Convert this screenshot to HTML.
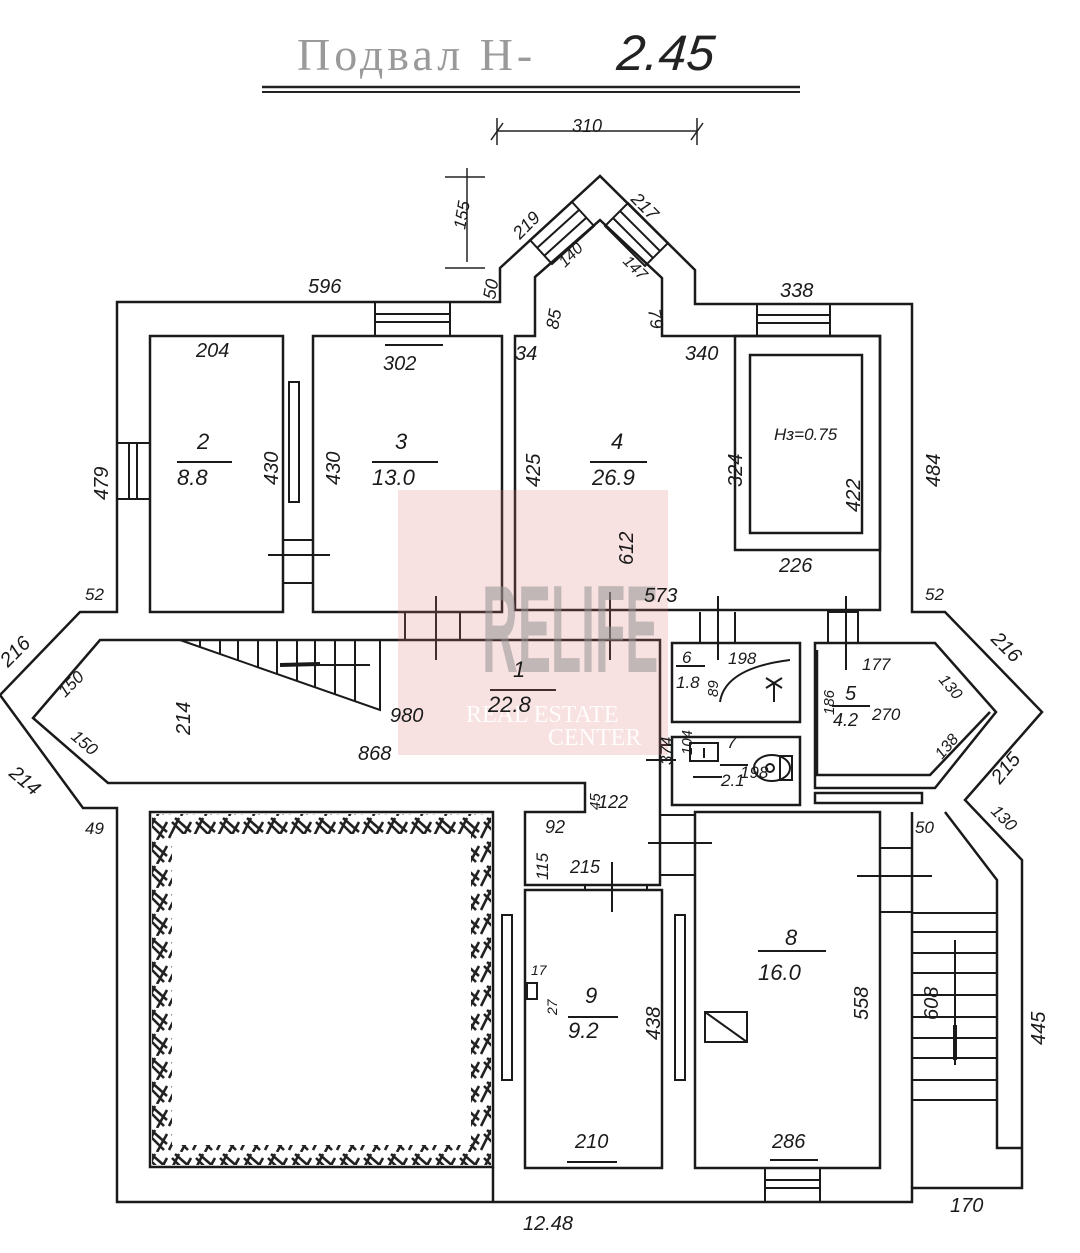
<!DOCTYPE html>
<html><head><meta charset="utf-8"><style>
html,body{margin:0;padding:0;background:#fff;}
svg{display:block}
text{font-family:"Liberation Sans",sans-serif;font-style:italic;fill:#1a1a1a;}
</style></head><body>
<svg width="1080" height="1253" viewBox="0 0 1080 1253" xmlns="http://www.w3.org/2000/svg">
<defs>
<pattern id="h" width="24" height="24" patternUnits="userSpaceOnUse">
<path d="M1 22 L11 2 M7 2 L23 16 M4 6 L20 22 M13 24 L23 6" stroke="#222" stroke-width="2.6" fill="none"/>
</pattern>
</defs>
<rect width="1080" height="1253" fill="#fff"/>
<!-- title -->
<text x="297" y="70" style="font-family:'Liberation Serif',serif;font-style:normal;font-size:46px;fill:#9a9a9a;letter-spacing:4px">Подвал Н-</text>
<text x="622" y="70" style="font-size:50px;fill:#222" transform="skewX(-5)" >2.45</text>
<line x1="262" y1="87" x2="800" y2="87" stroke="#222" stroke-width="2.5"/>
<line x1="262" y1="92" x2="800" y2="92" stroke="#222" stroke-width="2"/>
<!-- 310 dimension -->
<g stroke="#222" stroke-width="1.5" fill="none">
<line x1="497" y1="131" x2="697" y2="131"/><line x1="497" y1="118" x2="497" y2="145"/><line x1="697" y1="118" x2="697" y2="145"/>
<line x1="491" y1="140" x2="503" y2="123"/><line x1="691" y1="140" x2="703" y2="123"/>
<line x1="467" y1="168" x2="467" y2="262"/><line x1="445" y1="177" x2="485" y2="177"/><line x1="445" y1="268" x2="485" y2="268"/>
</g>
<text x="572" y="132" style="font-size:18px">310</text>
<text x="465" y="230" transform="rotate(-80 465 230)" style="font-size:17px">155</text>
<g stroke="#1a1a1a" stroke-width="2.5" fill="none" stroke-linejoin="miter">
<path d="M117 302 H500 V268 L600 176 L695 270 V304 H912 V612 H945 L1042 712 L965 800 L1022 860 V1188 H912 V1202 H117 V808 H83 L0 695 L80 612 H117 Z"/>
<rect x="150" y="336" width="133" height="276"/>
<rect x="313" y="336" width="189" height="276"/>
<path d="M515 336 H535 V277 L600 220 L662 278 V336 H880 V610 H515 Z"/>
<rect x="735" y="336" width="145" height="214"/>
<rect x="750" y="355" width="112" height="178"/>
<path d="M100 640 H660 V885 H525 V812 H585 V783 H108 L33 718 Z"/>
<rect x="672" y="643" width="128" height="79"/>
<rect x="672" y="737" width="128" height="68"/>
<path d="M815 643 H935 L996 712 L935 788 H815 Z"/>
<path d="M817 650 V775 H930 L990 712"/>
<rect x="815" y="793" width="107" height="10"/>
<rect x="150" y="812" width="343" height="355"/>
<line x1="493" y1="1167" x2="493" y2="1202"/>
<rect x="525" y="890" width="137" height="278"/>
<rect x="695" y="812" width="185" height="356"/>
<path d="M912 812 V1188"/>
<path d="M945 812 L997 880 V1148 H1022"/>
</g>
<path d="M152 814 H491 V1165 H152 Z M172 834 V1145 H471 V834 Z" fill="url(#h)" fill-rule="evenodd"/>
<g stroke="#1a1a1a" stroke-width="2" fill="none">
<!-- windows -->
<rect x="375" y="302" width="75" height="34"/><line x1="375" y1="314" x2="450" y2="314"/><line x1="375" y1="322" x2="450" y2="322"/>
<rect x="757" y="304" width="73" height="32"/><line x1="757" y1="315" x2="830" y2="315"/><line x1="757" y1="323" x2="830" y2="323"/>
<rect x="117" y="443" width="33" height="56"/><line x1="129" y1="443" x2="129" y2="499"/><line x1="137" y1="443" x2="137" y2="499"/>
<rect x="765" y="1168" width="55" height="34"/><line x1="765" y1="1180" x2="820" y2="1180"/><line x1="765" y1="1188" x2="820" y2="1188"/>
<path d="M530 240 L572 202 L594 226 L552 264 Z M537 248 L579 210 M544 256 L586 218"/>
<path d="M628 203 L668 243 L645 266 L605 226 Z M620 211 L660 251 M613 218 L653 258"/>
<!-- radiators -->
<rect x="289" y="382" width="10" height="120"/>
<rect x="502" y="915" width="10" height="165"/>
<rect x="675" y="915" width="10" height="165"/>
<!-- doors -->
<line x1="283" y1="540" x2="313" y2="540"/><line x1="283" y1="583" x2="313" y2="583"/><line x1="268" y1="555" x2="330" y2="555"/>
<rect x="405" y="612" width="55" height="28"/><line x1="436" y1="596" x2="436" y2="660"/>
<line x1="610" y1="592" x2="610" y2="660"/>
<line x1="700" y1="612" x2="700" y2="643"/><line x1="735" y1="612" x2="735" y2="643"/><line x1="718" y1="596" x2="718" y2="660"/>
<rect x="828" y="612" width="30" height="31"/><line x1="846" y1="596" x2="846" y2="670"/>
<line x1="660" y1="745" x2="672" y2="745"/><line x1="646" y1="760" x2="676" y2="760"/>
<rect x="660" y="815" width="35" height="60"/><line x1="648" y1="843" x2="712" y2="843"/>
<rect x="585" y="885" width="62" height="5"/><line x1="612" y1="862" x2="612" y2="912"/>
<rect x="880" y="848" width="32" height="64"/><line x1="857" y1="876" x2="932" y2="876"/>
<!-- stairs left -->
<path d="M180 640 L380 710 V640"/>
<path d="M200 640V647 M220 640V654 M238 640V660 M258 640V667 M277 640V674 M297 640V681 M315 640V688 M335 640V695 M355 640V702"/>
<line x1="285" y1="665" x2="370" y2="665"/>
<line x1="280" y1="665" x2="320" y2="664" stroke-width="4"/>
<!-- stairs right -->
<path d="M912 913H997 M912 932H997 M912 953H997 M912 973H997 M912 995H997 M912 1017H997 M912 1038H997 M912 1058H997 M912 1080H997 M912 1100H997"/>
<line x1="955" y1="940" x2="955" y2="1065"/>
<line x1="955" y1="1025" x2="955" y2="1060" stroke-width="4"/>
<!-- fixtures -->
<path d="M720 702 Q725 668 790 660"/>
<path d="M766 678 L782 688 M782 678 L766 688 M774 683 V702"/>
<rect x="690" y="743" width="28" height="18"/><line x1="704" y1="748" x2="704" y2="758"/>
<ellipse cx="772" cy="768" rx="18" ry="13"/><circle cx="770" cy="768" r="4"/><rect x="780" y="756" width="12" height="24"/>
<line x1="693" y1="777" x2="722" y2="777"/>
<rect x="705" y="1012" width="42" height="30"/><line x1="705" y1="1012" x2="747" y2="1042"/>
<rect x="527" y="983" width="10" height="16"/>
<!-- fraction bars -->
<line x1="177" y1="462" x2="232" y2="462"/><line x1="372" y1="462" x2="438" y2="462"/>
<line x1="590" y1="462" x2="647" y2="462"/><line x1="490" y1="690" x2="556" y2="690"/>
<line x1="676" y1="666" x2="705" y2="666"/><line x1="720" y1="765" x2="748" y2="765"/>
<line x1="832" y1="706" x2="870" y2="706"/><line x1="758" y1="951" x2="826" y2="951"/>
<line x1="568" y1="1017" x2="618" y2="1017"/>
<line x1="567" y1="1162" x2="617" y2="1162"/><line x1="770" y1="1160" x2="818" y2="1160"/>
<line x1="385" y1="345" x2="443" y2="345"/>
</g>
<!-- watermark -->
<rect x="398" y="490" width="270" height="265" fill="rgba(225,120,120,0.22)"/>
<text transform="translate(482,672) scale(0.62,1.55)" style="font-style:normal;font-weight:bold;font-size:80px;fill:rgba(150,150,150,0.55)">RELIFE</text>
<text x="466" y="722" style="font-family:'Liberation Serif',serif;font-style:normal;font-size:24px;fill:rgba(255,255,255,0.9)">REAL ESTATE</text>
<text x="548" y="745" style="font-family:'Liberation Serif',serif;font-style:normal;font-size:24px;fill:rgba(255,255,255,0.9)">CENTER</text>
<!-- labels -->
<g style="font-size:20px">
<text x="308" y="293">596</text><text x="780" y="297">338</text>
<text x="196" y="357">204</text><text x="383" y="370">302</text>
<text x="515" y="360">34</text><text x="685" y="360">340</text>
<text x="197" y="449" style="font-size:22px">2</text><text x="177" y="485" style="font-size:22px">8.8</text>
<text x="395" y="449" style="font-size:22px">3</text><text x="372" y="485" style="font-size:22px">13.0</text>
<text x="611" y="449" style="font-size:22px">4</text><text x="592" y="485" style="font-size:22px">26.9</text>
<text x="774" y="440" style="font-size:17px">Нз=0.75</text>
<text x="779" y="572">226</text><text x="644" y="602">573</text>
<text x="85" y="600" style="font-size:17px">52</text><text x="925" y="600" style="font-size:17px">52</text>
<text x="513" y="677" style="font-size:22px">1</text><text x="488" y="712" style="font-size:22px">22.8</text>
<text x="390" y="722">980</text><text x="358" y="760">868</text>
<text x="682" y="663" style="font-size:17px">6</text><text x="676" y="688" style="font-size:17px">1.8</text>
<text x="728" y="664" style="font-size:17px">198</text>
<text x="727" y="748" style="font-size:17px">7</text><text x="721" y="786" style="font-size:17px">2.1</text>
<text x="740" y="778" style="font-size:17px">198</text>
<text x="862" y="670" style="font-size:17px">177</text>
<text x="845" y="700" style="font-size:20px">5</text><text x="833" y="726" style="font-size:18px">4.2</text>
<text x="872" y="720" style="font-size:17px">270</text>
<text x="598" y="808" style="font-size:18px">122</text><text x="545" y="833" style="font-size:18px">92</text>
<text x="570" y="873" style="font-size:18px">215</text>
<text x="915" y="833" style="font-size:17px">50</text><text x="85" y="834" style="font-size:17px">49</text>
<text x="785" y="945" style="font-size:22px">8</text><text x="758" y="980" style="font-size:22px">16.0</text>
<text x="585" y="1003" style="font-size:22px">9</text><text x="568" y="1038" style="font-size:22px">9.2</text>
<text x="531" y="975" style="font-size:14px">17</text>
<text x="575" y="1148">210</text><text x="772" y="1148">286</text>
<text x="523" y="1230">12.48</text><text x="950" y="1212">170</text>
</g>
<g style="font-size:20px">
<text transform="translate(108,500) rotate(-90)">479</text>
<text transform="translate(278,485) rotate(-90)">430</text>
<text transform="translate(340,485) rotate(-90)">430</text>
<text transform="translate(540,487) rotate(-90)">425</text>
<text transform="translate(633,565) rotate(-90)">612</text>
<text transform="translate(742,487) rotate(-90)">324</text>
<text transform="translate(860,512) rotate(-90)">422</text>
<text transform="translate(940,487) rotate(-90)">484</text>
<text transform="translate(190,735) rotate(-90)">214</text>
<text transform="translate(672,765) rotate(-90)" style="font-size:17px">374</text>
<text transform="translate(692,755) rotate(-90)" style="font-size:15px">104</text>
<text transform="translate(718,697) rotate(-90)" style="font-size:15px">89</text>
<text transform="translate(834,715) rotate(-90)" style="font-size:15px">186</text>
<text transform="translate(600,810) rotate(-90)" style="font-size:15px">45</text>
<text transform="translate(548,880) rotate(-90)" style="font-size:17px">115</text>
<text transform="translate(557,1015) rotate(-90)" style="font-size:14px">27</text>
<text transform="translate(660,1040) rotate(-90)">438</text>
<text transform="translate(868,1020) rotate(-90)">558</text>
<text transform="translate(938,1020) rotate(-90)">608</text>
<text transform="translate(1045,1045) rotate(-90)">445</text>
<text transform="translate(495,300) rotate(-80)" style="font-size:18px">50</text>
<text transform="translate(558,330) rotate(-80)" style="font-size:18px">85</text>
<text transform="translate(648,310) rotate(80)" style="font-size:18px">79</text>
<text transform="translate(520,240) rotate(-45)" style="font-size:18px">219</text>
<text transform="translate(565,268) rotate(-45)" style="font-size:16px">140</text>
<text transform="translate(630,200) rotate(45)" style="font-size:18px">217</text>
<text transform="translate(622,262) rotate(45)" style="font-size:16px">147</text>
<text transform="translate(8,668) rotate(-45)">216</text>
<text transform="translate(65,698) rotate(-45)" style="font-size:17px">150</text>
<text transform="translate(70,738) rotate(40)" style="font-size:17px">150</text>
<text transform="translate(8,775) rotate(40)">214</text>
<text transform="translate(990,640) rotate(45)">216</text>
<text transform="translate(938,680) rotate(50)" style="font-size:16px">130</text>
<text transform="translate(942,760) rotate(-50)" style="font-size:16px">138</text>
<text transform="translate(1000,785) rotate(-50)">215</text>
<text transform="translate(990,812) rotate(45)" style="font-size:17px">130</text>
</g>
</svg>
</body></html>
